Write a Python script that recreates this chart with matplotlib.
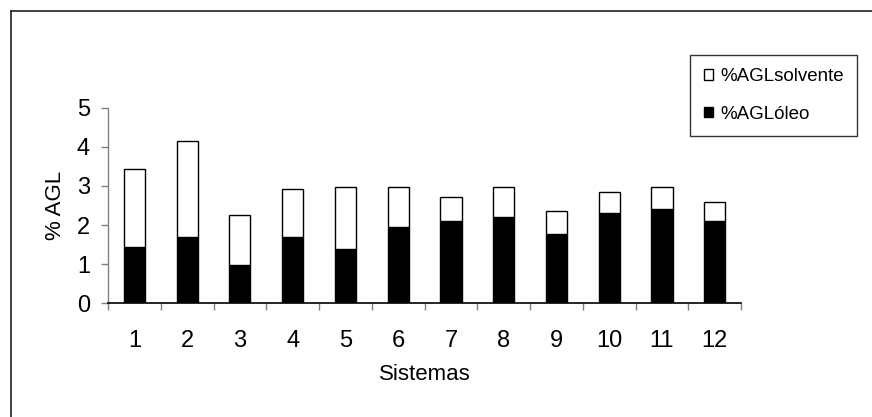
import matplotlib.pyplot as plt
from matplotlib.lines import Line2D

plt.rcParams["font.family"] = ["Liberation Sans", "DejaVu Sans"]

sistemas = ["1", "2", "3", "4", "5", "6", "7", "8", "9", "10", "11", "12"]
agl_oleo = [1.45, 1.70, 0.99, 1.70, 1.40, 1.96, 2.11, 2.21, 1.76, 2.32, 2.42, 2.11]
agl_total = [3.43, 4.15, 2.26, 2.92, 2.97, 2.97, 2.72, 2.97, 2.36, 2.85, 2.97, 2.60]
agl_solvente = [t - o for t, o in zip(agl_total, agl_oleo)]

fig = plt.figure(figsize=(8.72, 4.17), dpi=100)
ax = fig.add_axes([0.1239, 0.2727, 0.726, 0.469])

x = list(range(1, len(sistemas) + 1))
b_oleo = ax.bar(x, agl_oleo, width=0.4, color="black", edgecolor="black",
                linewidth=1.0, label="%AGLóleo")
b_solv = ax.bar(x, agl_solvente, width=0.4, bottom=agl_oleo, color="white",
                edgecolor="black", linewidth=1.0, label="%AGLsolvente")

ax.set_xlim(0.5, len(sistemas) + 0.5)
ax.set_ylim(0, 5)
ax.set_yticks(range(0, 6))

# ticks between categories, labels in the middle
ax.set_xticks([i + 0.5 for i in range(len(sistemas) + 1)])
ax.set_xticklabels([])
ax.set_xticks(x, minor=True)
ax.set_xticklabels(sistemas, minor=True)
ax.tick_params(axis="x", which="major", direction="out", length=5,
               width=1, color="#808080")
ax.tick_params(axis="x", which="minor", length=0, pad=19, labelsize=17)
ax.tick_params(axis="y", direction="out", length=5, width=1,
               color="#808080", pad=8, labelsize=17)

for s in ["top", "right"]:
    ax.spines[s].set_visible(False)
ax.spines["left"].set_color("#808080")
ax.spines["left"].set_linewidth(1.0)
ax.spines["bottom"].set_color("black")
ax.spines["bottom"].set_linewidth(1.2)

ax.set_xlabel("Sistemas", fontsize=16, labelpad=9)
ax.set_ylabel("% AGL", fontsize=16, labelpad=8)

leg = fig.legend([b_solv, b_oleo], ["%AGLsolvente", "%AGLóleo"],
                 loc="upper right", bbox_to_anchor=(0.983, 0.868),
                 fancybox=False, edgecolor="black", fontsize=13.5,
                 handlelength=0.5, handleheight=0.5, handletextpad=0.4,
                 borderpad=0.7, labelspacing=1.1, borderaxespad=0)
leg.get_frame().set_linewidth(1.0)

# outer frame (only top and left edges visible)
fig.add_artist(Line2D([11 / 872, 1], [1 - 11 / 417, 1 - 11 / 417],
                      transform=fig.transFigure, color="#222222", lw=1.2))
fig.add_artist(Line2D([11 / 872, 11 / 872], [0, 1 - 11 / 417],
                      transform=fig.transFigure, color="#222222", lw=1.2))

fig.savefig("out.png", dpi=100)
